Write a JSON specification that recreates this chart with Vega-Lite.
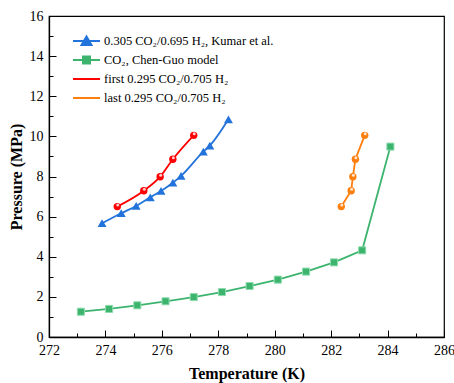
{
  "$schema": "https://vega.github.io/schema/vega-lite/v6.json",
  "width": 395,
  "height": 321,
  "autosize": {"type": "none"},
  "padding": {"left": 49, "top": 16, "right": 10, "bottom": 46},
  "background": "white",
  "config": {
    "font": "Liberation Serif",
    "view": {"stroke": "black", "strokeWidth": 1.2},
    "style": {"guide-label": {"font": "Liberation Serif", "fill": "#000000"}, "guide-title": {"font": "Liberation Serif", "fill": "#000000"}},
    "axis": {
      "labelFont": "Liberation Serif", "labelFontSize": 14, "labelColor": "#000000",
      "titleFont": "Liberation Serif", "titleFontSize": 16, "titleFontWeight": "bold", "titleColor": "#000000",
      "domainColor": "#000000", "domainWidth": 1.3, "tickColor": "#000000", "tickWidth": 1, "grid": false,
      "labelFlush": false, "labelOverlap": false
    }
  },
  "data": {"values": [
    {"series": "0.305 CO₂/0.695 H₂, Kumar et al.", "T": 273.88, "P": 5.67},
    {"series": "0.305 CO₂/0.695 H₂, Kumar et al.", "T": 274.56, "P": 6.17},
    {"series": "0.305 CO₂/0.695 H₂, Kumar et al.", "T": 275.09, "P": 6.53},
    {"series": "0.305 CO₂/0.695 H₂, Kumar et al.", "T": 275.59, "P": 6.96},
    {"series": "0.305 CO₂/0.695 H₂, Kumar et al.", "T": 275.97, "P": 7.28},
    {"series": "0.305 CO₂/0.695 H₂, Kumar et al.", "T": 276.39, "P": 7.69},
    {"series": "0.305 CO₂/0.695 H₂, Kumar et al.", "T": 276.68, "P": 8.03},
    {"series": "0.305 CO₂/0.695 H₂, Kumar et al.", "T": 277.47, "P": 9.24},
    {"series": "0.305 CO₂/0.695 H₂, Kumar et al.", "T": 277.70, "P": 9.54},
    {"series": "0.305 CO₂/0.695 H₂, Kumar et al.", "T": 278.36, "P": 10.85},
    {"series": "CO₂, Chen-Guo model", "T": 273.13, "P": 1.26},
    {"series": "CO₂, Chen-Guo model", "T": 274.13, "P": 1.40},
    {"series": "CO₂, Chen-Guo model", "T": 275.13, "P": 1.58},
    {"series": "CO₂, Chen-Guo model", "T": 276.13, "P": 1.78},
    {"series": "CO₂, Chen-Guo model", "T": 277.13, "P": 1.99},
    {"series": "CO₂, Chen-Guo model", "T": 278.13, "P": 2.24},
    {"series": "CO₂, Chen-Guo model", "T": 279.11, "P": 2.54},
    {"series": "CO₂, Chen-Guo model", "T": 280.11, "P": 2.86},
    {"series": "CO₂, Chen-Guo model", "T": 281.11, "P": 3.26},
    {"series": "CO₂, Chen-Guo model", "T": 282.10, "P": 3.72},
    {"series": "CO₂, Chen-Guo model", "T": 283.10, "P": 4.32},
    {"series": "CO₂, Chen-Guo model", "T": 284.10, "P": 9.49},
    {"series": "first 0.295 CO₂/0.705 H₂", "T": 274.42, "P": 6.50},
    {"series": "first 0.295 CO₂/0.705 H₂", "T": 275.36, "P": 7.29},
    {"series": "first 0.295 CO₂/0.705 H₂", "T": 275.94, "P": 7.99},
    {"series": "first 0.295 CO₂/0.705 H₂", "T": 276.39, "P": 8.86},
    {"series": "first 0.295 CO₂/0.705 H₂", "T": 277.13, "P": 10.05},
    {"series": "last 0.295 CO₂/0.705 H₂", "T": 282.36, "P": 6.50},
    {"series": "last 0.295 CO₂/0.705 H₂", "T": 282.71, "P": 7.29},
    {"series": "last 0.295 CO₂/0.705 H₂", "T": 282.77, "P": 7.99},
    {"series": "last 0.295 CO₂/0.705 H₂", "T": 282.86, "P": 8.86},
    {"series": "last 0.295 CO₂/0.705 H₂", "T": 283.19, "P": 10.05}
  ]},
  "encoding": {
    "x": {
      "field": "T", "type": "quantitative",
      "scale": {"domain": [272, 286], "nice": false, "zero": false},
      "axis": {
        "title": "Temperature (K)",
        "labelFont": "Liberation Serif", "labelColor": "#000000", "labelFontSize": 14,
        "values": [272, 273, 274, 275, 276, 277, 278, 279, 280, 281, 282, 283, 284, 285, 286],
        "labelExpr": "datum.value % 2 === 0 ? datum.label : ''",
        "tickSize": {"condition": {"test": "datum.value % 2 === 0", "value": -7}, "value": -4},
        "labelPadding": 13,
        "titlePadding": 5
      }
    },
    "y": {
      "field": "P", "type": "quantitative",
      "scale": {"domain": [0, 16], "nice": false},
      "axis": {
        "title": "Pressure (MPa)",
        "labelFont": "Liberation Serif", "labelColor": "#000000", "labelFontSize": 14,
        "values": [0, 1, 2, 3, 4, 5, 6, 7, 8, 9, 10, 11, 12, 13, 14, 15, 16],
        "labelExpr": "datum.value % 2 === 0 ? datum.label : ''",
        "tickSize": {"condition": {"test": "datum.value % 2 === 0", "value": -7}, "value": -4},
        "labelPadding": 13,
        "titlePadding": 5
      }
    },
    "color": {
      "field": "series", "type": "nominal",
      "scale": {
        "domain": ["0.305 CO₂/0.695 H₂, Kumar et al.", "CO₂, Chen-Guo model", "first 0.295 CO₂/0.705 H₂", "last 0.295 CO₂/0.705 H₂"],
        "range": ["#2273DB", "#3CB46E", "#FF0000", "#FF7F0E"]
      },
      "legend": null
    }
  },
  "layer": [
    {
      "mark": {"type": "point", "filled": true, "opacity": 0},
      "encoding": {
        "color": {
          "field": "series", "type": "nominal",
          "legend": {
            "title": null, "orient": "none", "legendX": 23, "legendY": 18, "padding": 0,
            "symbolSize": 729, "clipHeight": 14, "rowPadding": 5, "labelOffset": 3,
            "labelFont": "Liberation Serif", "labelFontSize": 12.5, "labelColor": "black", "labelLimit": 300,
            "symbolOpacity": 1, "symbolStrokeWidth": 2,
            "encode": {"symbols": {"update": {"stroke": {"scale": "color", "field": "value"}, "strokeWidth": {"value": 2}, "opacity": {"value": 1}}}}
          }
        },
        "shape": {
          "field": "series", "type": "nominal",
          "scale": {
            "domain": ["0.305 CO₂/0.695 H₂, Kumar et al.", "CO₂, Chen-Guo model", "first 0.295 CO₂/0.705 H₂", "last 0.295 CO₂/0.705 H₂"],
            "range": [
              "M-1,0H1M0,-0.34L0.37,0.3L-0.37,0.3Z",
              "M-1,0H1M-0.26,-0.26H0.26V0.26H-0.26Z",
              "M-1,0H1",
              "M-1,0H1"
            ]
          }
        }
      }
    },
    {
      "transform": [{"filter": {"field": "series", "oneOf": ["0.305 CO₂/0.695 H₂, Kumar et al.", "first 0.295 CO₂/0.705 H₂"]}}],
      "mark": {"type": "line", "strokeWidth": 1.8, "interpolate": "monotone"}
    },
    {
      "transform": [{"filter": {"field": "series", "oneOf": ["CO₂, Chen-Guo model", "last 0.295 CO₂/0.705 H₂"]}}],
      "mark": {"type": "line", "strokeWidth": 1.8, "interpolate": "linear"}
    },
    {
      "transform": [{"filter": {"field": "series", "equal": "0.305 CO₂/0.695 H₂, Kumar et al."}}],
      "mark": {"type": "point", "shape": "triangle-up", "filled": true, "size": 80, "opacity": 1}
    },
    {
      "transform": [{"filter": {"field": "series", "equal": "CO₂, Chen-Guo model"}}],
      "mark": {"type": "point", "shape": "square", "filled": true, "size": 50, "opacity": 1, "stroke": "#8fdcae", "strokeWidth": 1}
    },
    {
      "transform": [{"filter": {"field": "series", "oneOf": ["first 0.295 CO₂/0.705 H₂", "last 0.295 CO₂/0.705 H₂"]}}],
      "mark": {"type": "point", "shape": "circle", "filled": true, "size": 55, "opacity": 1}
    },
    {
      "transform": [{"filter": {"field": "series", "oneOf": ["first 0.295 CO₂/0.705 H₂", "last 0.295 CO₂/0.705 H₂"]}}],
      "mark": {"type": "point", "shape": "circle", "filled": true, "size": 9, "opacity": 0.8, "xOffset": 0.5, "yOffset": -1.5},
      "encoding": {"color": {"value": "white"}}
    }
  ]
}
